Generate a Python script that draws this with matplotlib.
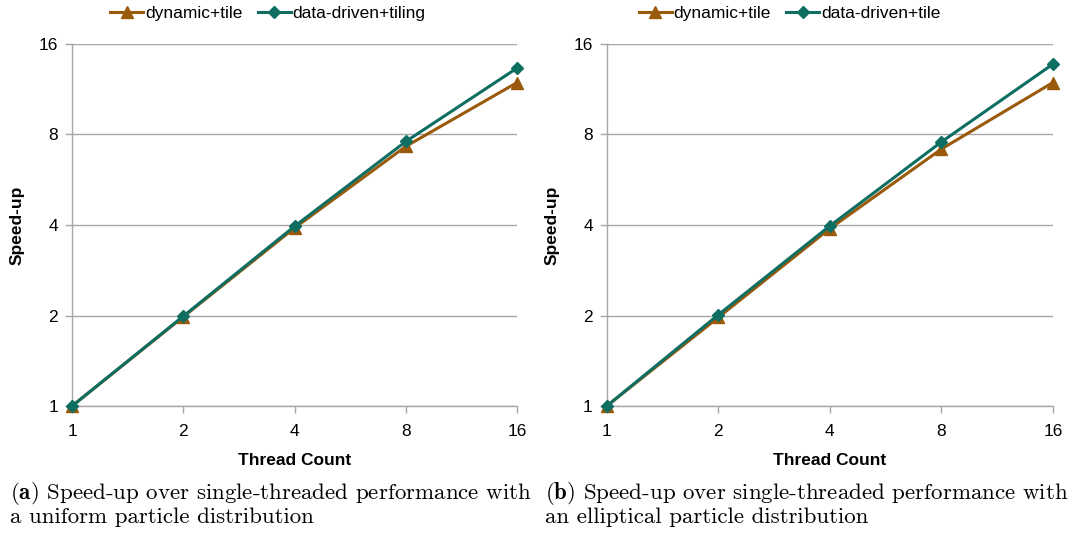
import matplotlib
matplotlib.use("Agg")
from matplotlib import pyplot as plt

plt.rcParams['font.family'] = ['Liberation Sans', 'DejaVu Sans']
plt.rcParams['mathtext.fontset'] = 'cm'

threads = [1, 2, 4, 8, 16]

# (a) uniform distribution
uni_dynamic = [1.0, 1.98, 3.91, 7.3, 11.9]
uni_data = [1.0, 1.99, 3.96, 7.58, 13.3]

# (b) elliptical distribution
ell_dynamic = [1.0, 1.97, 3.89, 7.15, 11.9]
ell_data = [1.0, 2.01, 3.97, 7.55, 13.7]

ticks = [1, 2, 4, 8, 16]
brown = '#9A5A0C'
teal = '#0E6E62'
grid_c = '#A6A6A6'


def draw_panel(ax, dyn, dd, dd_label, leg_x, caption):
    ax.plot(threads, dyn, color=brown, lw=2.2, marker='^', ms=9,
            label='dynamic+tile', zorder=3, clip_on=False)
    ax.plot(threads, dd, color=teal, lw=2.2, marker='D', ms=6,
            label=dd_label, zorder=4, clip_on=False)
    ax.set_xscale('log', base=2)
    ax.set_yscale('log', base=2)
    ax.set_xlim(1, 16)
    ax.set_ylim(1, 16)
    ax.set_xticks(ticks)
    ax.set_xticklabels([str(t) for t in ticks])
    ax.set_yticks(ticks)
    ax.set_yticklabels([str(t) for t in ticks])
    ax.minorticks_off()
    ax.grid(axis='y', color=grid_c, lw=1.0)
    ax.set_axisbelow(True)
    for s in ['top', 'right']:
        ax.spines[s].set_visible(False)
    for s in ['left', 'bottom']:
        ax.spines[s].set_color(grid_c)
        ax.spines[s].set_linewidth(1.0)
    ax.tick_params(axis='both', colors=grid_c, labelcolor='black',
                   labelsize=12.5, length=5, width=1.0)
    ax.tick_params(axis='x', pad=8)
    ax.tick_params(axis='y', pad=5)
    ax.set_xlabel('Thread Count', fontsize=12.5, fontweight='bold', labelpad=10)
    ax.set_ylabel('Speed-up', fontsize=12.5, fontweight='bold', labelpad=10)
    ax.legend(loc='center', bbox_to_anchor=(leg_x, 1.083), ncol=2,
              frameon=False, fontsize=12.5, handlelength=1.9,
              handletextpad=0.1, columnspacing=0.9)
    ax.text(-0.139, -0.205, caption, transform=ax.transAxes,
            fontsize=16.5, family='cmr10', va='top', ha='left',
            linespacing=1.03)


fig = plt.figure(figsize=(10.7, 5.35), dpi=100)
ax1 = fig.add_axes([0.0673, 0.241, 0.416, 0.677])
ax2 = fig.add_axes([0.567, 0.241, 0.417, 0.677])

draw_panel(ax1, uni_dynamic, uni_data, 'data-driven+tiling', 0.44,
           r'$\mathbf{(a)}$ Speed-up over single-threaded performance with'
           '\na uniform particle distribution')
draw_panel(ax2, ell_dynamic, ell_data, 'data-driven+tile', 0.41,
           r'$\mathbf{(b)}$ Speed-up over single-threaded performance with'
           '\nan elliptical particle distribution')

fig.savefig('out.png', dpi=100)
